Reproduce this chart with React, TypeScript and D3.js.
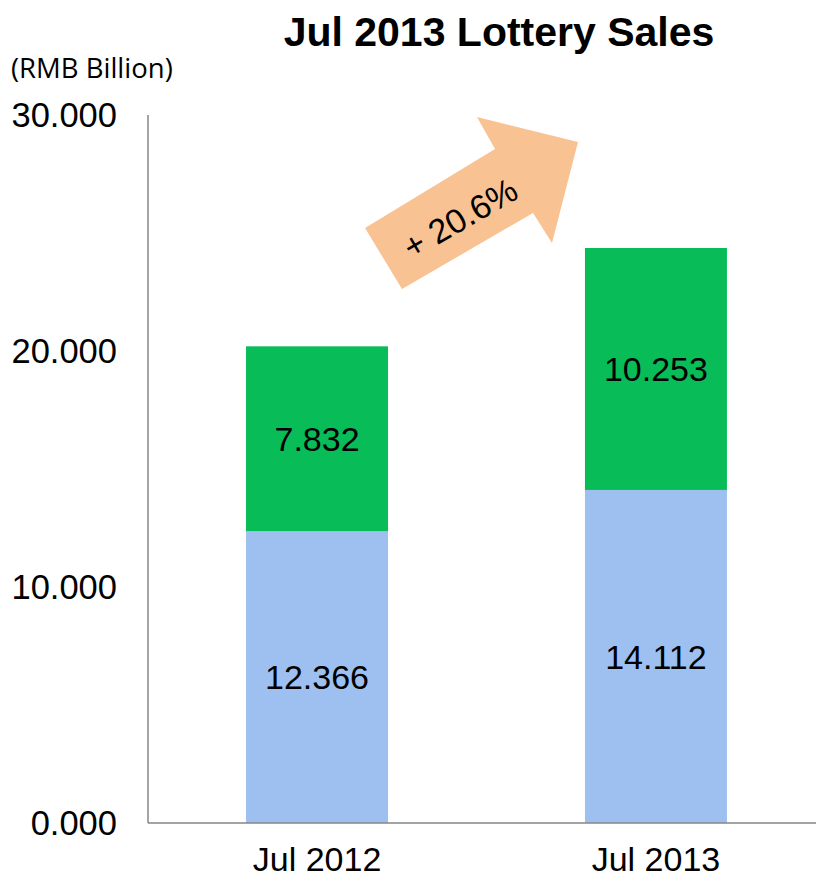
import React from "react";
import * as d3 from "d3";

const categories = ["Jul 2012", "Jul 2013"];
const bottomValues = [12.366, 14.112];
const topValues = [7.832, 10.253];
const yTicks = [0, 10, 20, 30];
const growthLabel = "+ 20.6%";
const title = "Jul 2013 Lottery Sales";
const unitLabel = "(RMB Billion)";

const W = 816;
const H = 879;

export default function App() {
  const y = d3.scaleLinear().domain([0, 30]).range([823, 115]);
  const x = d3
    .scaleBand()
    .domain(categories)
    .range([148, 816])
    .paddingInner(0.581)
    .paddingOuter(0.276)
    .align(0.524);
  const bw = x.bandwidth();

  const arrowPts: [number, number][] = [
    [365, 228], [495, 149], [477, 117], [578, 142], [552, 243], [533, 213], [402, 289],
  ];
  const arrowPath = d3.line()(arrowPts) + "Z";

  return (
    <svg width={W} height={H} style={{ position: "absolute", left: 0, top: 0 }} fontFamily="Liberation Sans, Arial, sans-serif">
      <rect width={W} height={H} fill="#fff" />
      <text x={499} y={46} textAnchor="middle" fontSize={41} fontWeight="bold" fill="#000">{title}</text>
      <text x={11} y={78} fontSize={27.5} fontFamily="Open Sans, sans-serif" fill="#000">{unitLabel}</text>
      {yTicks.map((t) => (
        <text key={t} x={117} y={y(t)} dy="0.36em" textAnchor="end" fontSize={34.5} fill="#000">
          {d3.format(".3f")(t)}
        </text>
      ))}
      {categories.map((c, i) => {
        const x0 = x(c)!;
        const b = bottomValues[i];
        const t = topValues[i];
        return (
          <g key={c}>
            <rect x={x0} y={y(b)} width={bw} height={y(0) - y(b)} fill="#9DC0F0" />
            <rect x={x0} y={y(b + t)} width={bw} height={y(b) - y(b + t)} fill="#08BC58" />
            <text x={x0 + bw / 2} y={(y(0) + y(b)) / 2} dy="0.36em" textAnchor="middle" fontSize={34} fill="#000">
              {d3.format(".3f")(b)}
            </text>
            <text x={x0 + bw / 2} y={(y(b) + y(b + t)) / 2} dy="0.36em" textAnchor="middle" fontSize={34} fill="#000">
              {d3.format(".3f")(t)}
            </text>
            <text x={x0 + bw / 2} y={871} textAnchor="middle" fontSize={34} fill="#000">{c}</text>
          </g>
        );
      })}
      <line x1={148} x2={148} y1={115} y2={823} stroke="#868686" strokeWidth={1.5} />
      <line x1={148} x2={816} y1={823} y2={823} stroke="#868686" strokeWidth={1.5} />
      <path d={arrowPath} fill="#F9C293" />
      <text x={460} y={218} dy="0.36em" textAnchor="middle" fontSize={34} fill="#000" transform="rotate(-30 460 218)">
        {growthLabel}
      </text>
    </svg>
  );
}
